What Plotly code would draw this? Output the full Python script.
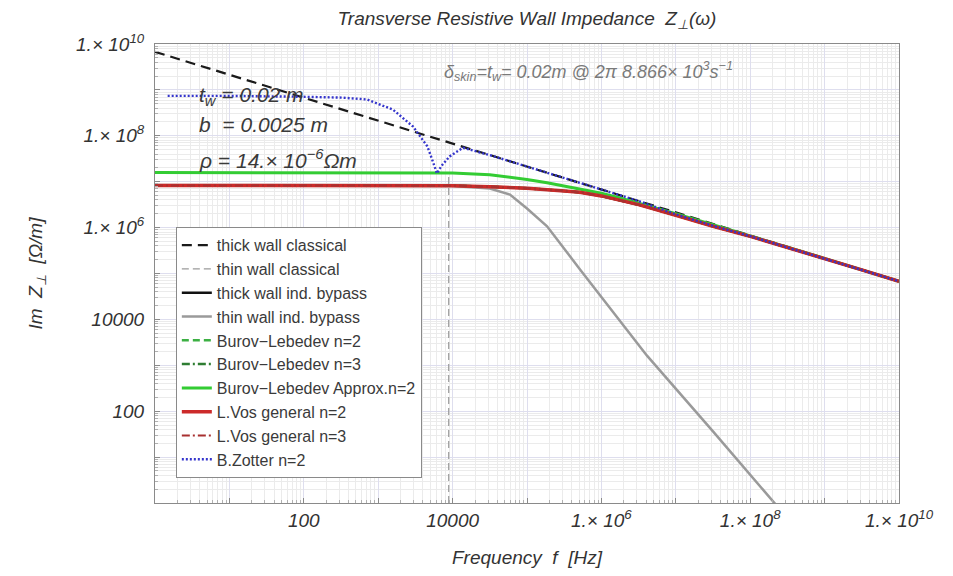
import plotly.graph_objects as go

# ---------------- data ----------------
# thick wall classical (black dashed)
f_thick_cl = [1, 10, 100, 1e3, 1e4, 1e5, 1e6, 1e7, 1e8, 1e9, 1e10]
z_thick_cl = [6.76e9, 2.14e9, 6.76e8, 2.14e8, 6.76e7, 2.14e7, 6.76e6, 2.14e6, 6.76e5, 2.14e5, 6.76e4]

# thin wall classical (gray dashed, vertical marker at skin-depth frequency)
f_thin_cl = [8866, 8866]
z_thin_cl = [1, 1.4e7]

# L.Vos general n=2 (red) -- also underlies the exact BL / bypass curves
f_vos = [1, 10, 100, 1e3, 3.16e3, 1e4, 3.16e4, 1e5, 3.16e5, 5.1e5, 1e6, 2.4e6, 3.16e6,
         1e7, 3.16e7, 1e8, 3.16e8, 1e9, 3.16e9, 1e10]
z_vos = [8.3e6, 8.3e6, 8.3e6, 8.3e6, 8.3e6, 8.2e6, 7.8e6, 7.2e6, 6.3e6, 5.9e6, 4.9e6,
         3.55e6, 3.16e6, 1.86e6, 1.07e6, 6.46e5, 3.72e5, 2.14e5, 1.20e5, 6.76e4]

# thick wall ind. bypass (black solid) -- hidden beneath L.Vos
f_thick_bp = f_vos
z_thick_bp = z_vos

# thin wall ind. bypass (gray solid)
f_thin_bp = [1, 10, 100, 1e3, 1e4, 3.16e4, 5.9e4, 1e5, 1.86e5, 5.1e5, 4.1e6, 3.16e7, 2.04e8, 3.16e8]
z_thin_bp = [8.3e6, 8.3e6, 8.3e6, 8.3e6, 8.1e6, 7.1e6, 5.25e6, 2.6e6, 1.07e6, 1.26e5, 1.62e3, 36.3, 1.1, 0.47]

# Burov-Lebedev exact n=2, n=3 -- coincide with L.Vos
f_bl2 = f_vos
z_bl2 = z_vos
f_bl3 = f_vos
z_bl3 = z_vos

# Burov-Lebedev Approx n=2 (green)
f_bla = [1, 10, 100, 1e3, 1e4, 3.16e4, 1e5, 1.86e5, 3.16e5, 1e6, 1.78e6, 3.16e6,
         1e7, 3.16e7, 1e8, 3.16e8, 1e9, 3.16e9, 1e10]
z_bla = [1.58e7, 1.58e7, 1.58e7, 1.58e7, 1.55e7, 1.41e7, 1.12e7, 9.5e6, 8.1e6, 5.6e6,
         4.4e6, 3.4e6, 2.0e6, 1.15e6, 6.6e5, 3.72e5, 2.14e5, 1.20e5, 6.76e4]

# L.Vos general n=3 (red dash-dot)
f_vos3 = f_vos
z_vos3 = z_vos

# B.Zotter n=2 (blue dotted)
f_zot = [1.48, 10, 89, 316, 708, 1585, 2950, 4570, 5250, 6170, 7080, 9120, 1.38e4,
         3.47e4, 1e5, 3.16e5, 1e6, 3.16e6, 1e7, 3.16e7, 1e8, 3.16e8, 1e9, 3.16e9, 1e10]
z_zot = [7.4e8, 7.4e8, 7.1e8, 6.8e8, 6.2e8, 3.7e8, 1.58e8, 5.9e7, 3.2e7, 1.51e7, 2.2e7,
         3.55e7, 5.5e7, 3.63e7, 2.14e7, 1.2e7, 6.76e6, 3.8e6, 1.95e6, 1.1e6, 6.5e5,
         3.72e5, 2.14e5, 1.2e5, 6.76e4]

tick_vals = [1, 10, 100, 1e3, 1e4, 1e5, 1e6, 1e7, 1e8, 1e9, 1e10]
tick_text = ["", "", "100", "", "10000", "", "1.\u00d7 10<sup>6</sup>", "",
             "1.\u00d7 10<sup>8</sup>", "", "1.\u00d7 10<sup>10</sup>"]

# ---------------- figure ----------------
FONT = "Liberation Sans, Arial, sans-serif"
fig = go.Figure()

def add(x, y, name, color, width, dash="solid"):
    fig.add_trace(go.Scatter(x=x, y=y, mode="lines", name=name,
                             line=dict(color=color, width=width, dash=dash)))

add(f_thick_cl, z_thick_cl, "thick wall classical", "#1a1a1a", 2.2, "10px,6px")
add(f_thin_cl, z_thin_cl, "thin wall classical", "#9a9a9a", 1.2, "7px,4px")
add(f_thick_bp, z_thick_bp, "thick wall ind. bypass", "#111111", 2.5)
add(f_thin_bp, z_thin_bp, "thin wall ind. bypass", "#9a9a9a", 2.5)
add(f_bl2, z_bl2, "Burov\u2212Lebedev n=2", "#3cb043", 2.5, "7px,4px")
add(f_bl3, z_bl3, "Burov\u2212Lebedev n=3", "#2e7d32", 2.5, "8px,3px,2px,3px")
add(f_bla, z_bla, "Burov\u2212Lebedev Approx.n=2", "#33cc33", 3)
add(f_vos, z_vos, "L.Vos general n=2", "#cc2a2a", 3.5)
add(f_vos3, z_vos3, "L.Vos general n=3", "#a83030", 2, "8px,3px,2px,3px")
add(f_zot, z_zot, "B.Zotter n=2", "#3535cc", 2.4, "2px,2px")

axis_common = dict(
    type="log", range=[0, 10], tickvals=tick_vals, ticktext=tick_text,
    showline=True, linecolor="#8a8a8a", linewidth=1, mirror=True,
    ticks="inside", ticklen=5, tickcolor="#8a8a8a",
    showgrid=True, gridcolor="#dedeee", gridwidth=1,
    minor=dict(dtick="D1", showgrid=True, gridcolor="#ebebeb", gridwidth=1,
               ticks="inside", ticklen=3, tickcolor="#b0b0b0"),
    tickfont=dict(family=FONT, size=19, color="#333333", style="italic"),
    zeroline=False,
)

fig.update_xaxes(**axis_common,
                 title=dict(text="Frequency  f  [Hz]", standoff=20,
                            font=dict(family=FONT, size=19, color="#333333", style="italic")))
fig.update_yaxes(**axis_common, ticklabelstandoff=6,
                 title=dict(text="Im  Z<sub>\u22a5</sub>  [\u03a9/m]", standoff=28,
                            font=dict(family=FONT, size=19, color="#333333", style="italic")))

fig.update_layout(
    width=953, height=576,
    margin=dict(l=155, r=54, t=44, b=71),
    paper_bgcolor="white", plot_bgcolor="white",
    title=dict(text="Transverse Resistive Wall Impedance  Z<sub>\u22a5</sub>(\u03c9)",
               x=(155 + 899) / 2 / 953, xanchor="center", y=1 - 18 / 576, yanchor="middle",
               font=dict(family=FONT, size=19, color="#333333", style="italic")),
    legend=dict(x=0.028, xanchor="left", y=0.054, yanchor="bottom",
                bgcolor="white", bordercolor="#8a8a8a", borderwidth=1,
                font=dict(family=FONT, size=16, color="#3a3a3a"),
                tracegroupgap=0),
    showlegend=True,
)

ann_font = dict(family=FONT, size=21, color="#3a3a3a", style="italic")
fig.add_annotation(xref="paper", yref="paper", x=(197 - 155) / 744, y=1 - (96 - 44) / 461,
                   text="t<sub>w</sub> = 0.02 m", showarrow=False, xanchor="left",
                   yanchor="middle", font=ann_font)
fig.add_annotation(xref="paper", yref="paper", x=(197 - 155) / 744, y=1 - (125 - 44) / 461,
                   text="b  = 0.0025 m", showarrow=False, xanchor="left",
                   yanchor="middle", font=ann_font)
fig.add_annotation(xref="paper", yref="paper", x=(197 - 155) / 744, y=1 - (160 - 44) / 461,
                   text="\u03c1 = 14.\u00d7 10<sup>\u22126</sup>\u03a9m", showarrow=False,
                   xanchor="left", yanchor="middle", font=ann_font)
fig.add_annotation(xref="paper", yref="paper", x=(442 - 155) / 744, y=1 - (72 - 44) / 461,
                   text="\u03b4<sub>skin</sub>=t<sub>w</sub>= 0.02m @ 2\u03c0 8.866\u00d7 10<sup>3</sup>s<sup>\u22121</sup>",
                   showarrow=False, xanchor="left", yanchor="middle",
                   font=dict(family=FONT, size=18, color="#7a7a7a", style="italic"))

fig.write_html("out.html")
